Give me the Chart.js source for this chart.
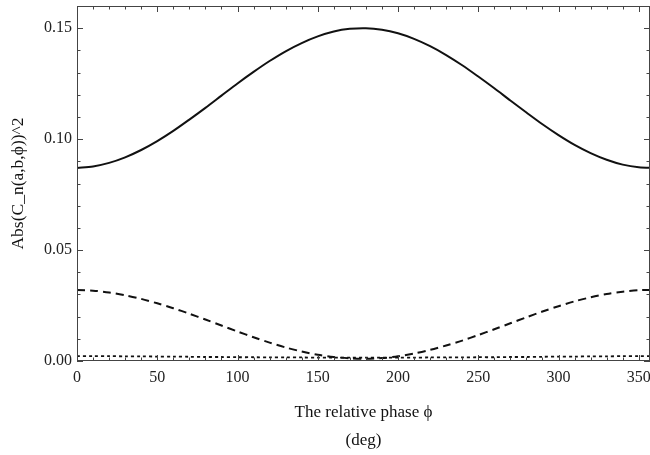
<!DOCTYPE html>
<html>
<head>
<meta charset="utf-8">
<script src="https://cdn.jsdelivr.net/npm/chart.js@4.4.0/dist/chart.umd.min.js"></script>
<style>
  html, body { margin: 0; padding: 0; background: #fff; }
  #wrap { width: 650px; height: 455px; }
</style>
</head>
<body>
<div id="wrap"><canvas id="phaseChart"></canvas></div>
<script>
// relative phase (deg)
const phase = [0, 10, 20, 30, 40, 50, 60, 70, 80, 90, 100, 110, 120, 130, 140, 150, 160, 170, 180,
  190, 200, 210, 220, 230, 240, 250, 260, 270, 280, 290, 300, 310, 320, 330, 340, 350, 360];

// Abs(C_n)^2
const solidValues = [0.0870, 0.0877, 0.0893, 0.0918, 0.0951, 0.0991, 0.1037, 0.1088, 0.1141, 0.1196,
  0.1251, 0.1303, 0.1352, 0.1396, 0.1433, 0.1463, 0.1485, 0.1497, 0.1500, 0.1493, 0.1477, 0.1452,
  0.1419, 0.1379, 0.1333, 0.1282, 0.1229, 0.1174, 0.1120, 0.1067, 0.1018, 0.0974, 0.0937, 0.0907,
  0.0885, 0.0873, 0.0870];
const dashedValues = [0.0320, 0.0317, 0.0309, 0.0296, 0.0280, 0.0260, 0.0238, 0.0213, 0.0187, 0.0160,
  0.0133, 0.0107, 0.0083, 0.0061, 0.0043, 0.0028, 0.0018, 0.0012, 0.0010, 0.0013, 0.0021, 0.0034,
  0.0050, 0.0070, 0.0092, 0.0117, 0.0143, 0.0170, 0.0197, 0.0223, 0.0247, 0.0269, 0.0287, 0.0302,
  0.0312, 0.0319, 0.0320];
const dottedValues = [0.0022, 0.0022, 0.0022, 0.0021, 0.0021, 0.0020, 0.0020, 0.0019, 0.0018, 0.0018,
  0.0017, 0.0017, 0.0016, 0.0016, 0.0016, 0.0015, 0.0015, 0.0015, 0.0015, 0.0015, 0.0015, 0.0015,
  0.0016, 0.0016, 0.0016, 0.0017, 0.0017, 0.0018, 0.0018, 0.0019, 0.0020, 0.0020, 0.0021, 0.0021,
  0.0022, 0.0022, 0.0022];

const xTicks = [0, 50, 100, 150, 200, 250, 300, 350];
const yTicks = [0, 0.05, 0.10, 0.15];

const serif = "'Liberation Serif', 'DejaVu Serif', serif";
const toPoints = vals => phase.map((p, i) => ({ x: p, y: vals[i] }));

// Mathematica-style frame with inward ticks on all four sides
const frameTicks = {
  id: "frameTicks",
  afterDatasetsDraw(chart) {
    const { ctx, chartArea: a, scales: { x, y } } = chart;
    ctx.save();
    ctx.strokeStyle = "#444";
    ctx.lineWidth = 1;
    ctx.strokeRect(a.left + 0.5, a.top + 0.5, a.right - a.left - 1, a.bottom - a.top - 1);
    ctx.beginPath();
    for (let v = 0; v <= x.max; v += 10) {
      const len = v % 50 === 0 ? 6 : 3.5;
      const px = Math.round(x.getPixelForValue(v)) + 0.5;
      ctx.moveTo(px, a.bottom); ctx.lineTo(px, a.bottom - len);
      ctx.moveTo(px, a.top); ctx.lineTo(px, a.top + len);
    }
    for (let k = 0; k * 0.01 <= y.max + 1e-9; k++) {
      const len = k % 5 === 0 ? 6 : 3.5;
      const py = Math.round(y.getPixelForValue(k * 0.01)) + 0.5;
      ctx.moveTo(a.left, py); ctx.lineTo(a.left + len, py);
      ctx.moveTo(a.right, py); ctx.lineTo(a.right - len, py);
    }
    ctx.stroke();
    ctx.restore();
  },
};

const ctx = document.getElementById("phaseChart").getContext("2d");
new Chart(ctx, {
  type: "line",
  data: {
    datasets: [
      { data: toPoints(solidValues), borderColor: "#111", borderWidth: 2, tension: 0.3 },
      { data: toPoints(dashedValues), borderColor: "#111", borderWidth: 2, borderDash: [8, 5], tension: 0.3 },
      { data: toPoints(dottedValues), borderColor: "#111", borderWidth: 1.8, borderDash: [3, 3], tension: 0.3 },
    ],
  },
  options: {
    responsive: true,
    maintainAspectRatio: false,
    animation: false,
    layout: { autoPadding: false, padding: { top: 6, right: 0, bottom: 0, left: 0 } },
    elements: { point: { radius: 0 } },
    plugins: { legend: { display: false }, tooltip: { enabled: false } },
    scales: {
      x: {
        type: "linear",
        min: 0,
        max: 357,
        afterBuildTicks: (s) => { s.ticks = xTicks.map(v => ({ value: v })); },
        afterFit: (s) => {
          s.height = 94;
          s.paddingLeft = 0;
          s.paddingRight = 0;
        },
        grid: { display: false, drawTicks: false },
        border: { display: false },
        ticks: {
          color: "#222",
          padding: 7,
          maxRotation: 0,
          autoSkip: false,
          font: { family: serif, size: 16 },
          callback: (v) => String(v),
        },
        title: {
          display: true,
          text: ["The relative phase \u03D5", "(deg)"],
          color: "#111",
          font: { family: serif, size: 17, lineHeight: 28 / 17 },
          padding: { top: 0, bottom: 0 },
        },
      },
      y: {
        min: 0,
        max: 0.16,
        afterBuildTicks: (s) => { s.ticks = yTicks.map(v => ({ value: v })); },
        afterFit: (s) => {
          s.width = 77;
          s.paddingTop = 0;
          s.paddingBottom = 0;
        },
        grid: { display: false, drawTicks: false },
        border: { display: false },
        ticks: {
          color: "#222",
          padding: 5,
          font: { family: serif, size: 16 },
          callback: (v) => v.toFixed(2),
        },
        title: {
          display: true,
          text: "Abs(C_n(a,b,\u03D5))^2",
          color: "#111",
          font: { family: serif, size: 17.5, lineHeight: 1.2 },
          padding: { top: 8, bottom: 0 },
        },
      },
    },
  },
  plugins: [frameTicks],
});
</script>
</body>
</html>
